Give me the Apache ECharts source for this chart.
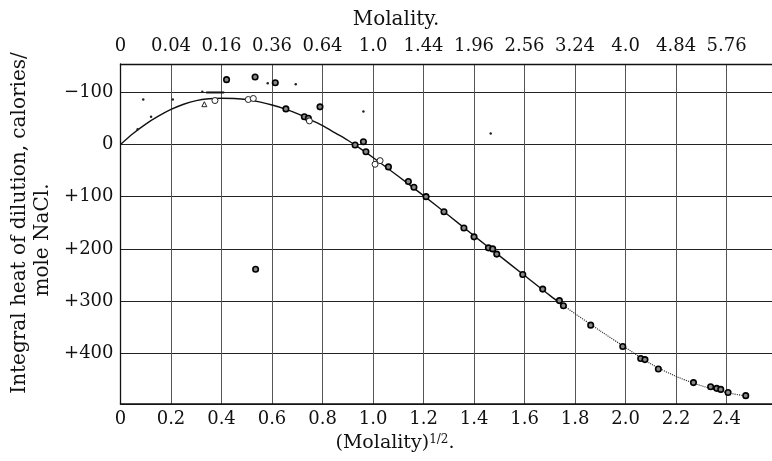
<!DOCTYPE html>
<html>
<head>
<meta charset="utf-8">
<script src="https://cdn.jsdelivr.net/npm/echarts@6/dist/echarts.min.js"></script>
<style>
  html, body { margin: 0; padding: 0; background: #fff; }
  #main { width: 772px; height: 461px; }
</style>
</head>
<body>
<div id="main"></div>
<script>
// smoothed curve drawn through the points, (molality)^1/2 vs heat
var curveX = [0, 0.05, 0.10, 0.15, 0.20, 0.25, 0.30, 0.35, 0.40, 0.45, 0.50, 0.55, 0.60, 0.65, 0.70, 0.75, 0.80, 0.85, 0.90, 0.95, 1.00, 1.10, 1.20, 1.30, 1.40, 1.50, 1.60, 1.70, 1.75,
              1.80, 1.90, 2.00, 2.10, 2.20, 2.30, 2.40, 2.48];
var curveY = [0, -21, -39, -54, -67, -77, -84, -87.5, -88.5, -88, -86, -81.5, -75.5, -68, -59, -48, -36, -22, -8, 8, 25, 61, 98, 136, 175, 213, 251, 289, 307,
              324, 357, 389, 420, 444, 462, 475, 482];
var dottedFrom = 1.75;

// ringed circles
var ringX = [0.42, 0.533, 0.613, 0.655, 0.728, 0.744, 0.79, 0.929, 0.962, 0.972, 1.061, 1.14, 1.162, 1.21, 1.281, 1.36, 1.40, 1.457, 1.474, 1.49,
             1.593, 1.672, 1.738, 1.754, 1.862, 1.989, 2.06, 2.077, 2.13, 2.269, 2.337, 2.361, 2.377, 2.406, 2.476, 0.535];
var ringY = [-124, -129, -118, -68, -53, -50, -72, 1, -5, 14, 43, 71, 82, 100, 129, 160, 177, 198, 200, 210,
             249, 277, 299, 309, 346, 387, 410, 412, 430, 456, 464, 467, 469, 475, 481, 239];

// open circles
var openX = [0.374, 0.506, 0.526, 0.748, 1.008, 1.028];
var openY = [-84, -86, -88, -45, 38, 31];

// small dots
var dotX = [0.068, 0.09, 0.121, 0.207, 0.324, 0.583, 0.694, 0.962, 1.466];
var dotY = [-29, -86, -53, -86, -101, -117, -115, -63, -21];

var triX = [0.332];
var triY = [-77];

var dashX = [0.375];
var dashY = [-99.5];

var xTicks = ['0', '0.2', '0.4', '0.6', '0.8', '1.0', '1.2', '1.4', '1.6', '1.8', '2.0', '2.2', '2.4'];
var molalityTicks = ['0', '0.04', '0.16', '0.36', '0.64', '1.0', '1.44', '1.96', '2.56', '3.24', '4.0', '4.84', '5.76'];

function pairs(xs, ys) {
    return xs.map(function (x, i) { return [x, ys[i]]; });
}

var solidPart = [], dottedPart = [];
curveX.forEach(function (x, i) {
    if (x <= dottedFrom) solidPart.push([x, curveY[i]]);
    if (x >= dottedFrom) dottedPart.push([x, curveY[i]]);
});

var FONT = 'DejaVu Serif';
var labelStyle = { fontFamily: FONT, fontSize: 18, color: '#111' };

function textEl(x, y, text, size, rot) {
    return {
        type: 'text', x: x, y: y, rotation: rot || 0,
        style: {
            text: text, font: size + 'px "DejaVu Serif"', fill: '#111',
            textAlign: 'center', textVerticalAlign: 'middle', align: 'center', verticalAlign: 'middle',
            rich: { sup: { fontFamily: FONT, fontSize: 12, verticalAlign: 'top', fill: '#111', color: '#111' } }
        }
    };
}

var myChart = echarts.init(document.getElementById('main'));

var option = {
    animation: false,
    backgroundColor: '#fff',
    grid: { left: 120.5, right: 0, top: 64, bottom: 57 },
    xAxis: [{
        type: 'value',
        position: 'bottom',
        min: 0,
        max: 2.58,
        interval: 0.2,
        axisLine: { onZero: false, lineStyle: { color: '#111', width: 1.5 } },
        axisTick: { show: false },
        axisLabel: Object.assign({
            margin: 6,
            showMaxLabel: false,
            formatter: function (v) { return xTicks[Math.round(v / 0.2)] || ''; }
        }, labelStyle),
        splitLine: { lineStyle: { color: '#555', width: 1 } }
    }, {
        type: 'value',
        position: 'top',
        min: 0,
        max: 2.58,
        interval: 0.2,
        axisLine: { onZero: false, lineStyle: { color: '#111', width: 1.3 } },
        axisTick: { show: false },
        axisLabel: Object.assign({
            margin: 9,
            showMaxLabel: false,
            formatter: function (v) { return molalityTicks[Math.round(v / 0.2)] || ''; }
        }, labelStyle),
        splitLine: { show: false }
    }],
    yAxis: {
        type: 'value',
        inverse: true,
        min: -154,
        max: 497,
        splitNumber: 6,
        axisLine: { show: true, onZero: false, lineStyle: { color: '#111', width: 1.3 } },
        axisTick: { show: false },
        axisLabel: Object.assign({
            margin: 7,
            showMinLabel: false,
            showMaxLabel: false,
            formatter: function (v) {
                if (v < 0) return '\u2212' + (-v);
                if (v > 0) return '+' + v;
                return '0';
            }
        }, labelStyle),
        splitLine: { lineStyle: { color: '#222', width: 1.2 } }
    },
    graphic: [
        textEl(396, 20, 'Molality.', 20),
        textEl(395, 443, '(Molality){sup|1/2}.', 19),
        textEl(20, 223, 'Integral heat of dilution, calories/', 20, Math.PI / 2),
        textEl(43, 240, 'mole NaCl.', 20, Math.PI / 2)
    ],
    series: [
        {
            type: 'line', data: solidPart, smooth: 0.3, symbol: 'none',
            lineStyle: { color: '#111', width: 1.4 }, z: 2
        },
        {
            type: 'line', data: dottedPart, smooth: 0.3, symbol: 'none',
            lineStyle: { color: '#222', width: 1.1, type: 'dotted' }, z: 2
        },
        {
            type: 'scatter', data: pairs(ringX, ringY), symbol: 'circle', symbolSize: 5.5,
            itemStyle: { color: '#888', borderColor: '#000', borderWidth: 1.6, opacity: 1 }, z: 3
        },
        {
            type: 'scatter', data: pairs(openX, openY), symbol: 'circle', symbolSize: 6,
            itemStyle: { color: '#fff', borderColor: '#222', borderWidth: 1, opacity: 1 }, z: 3
        },
        {
            type: 'scatter', data: pairs(dotX, dotY), symbol: 'circle', symbolSize: 2.5,
            itemStyle: { color: '#222', opacity: 1 }, z: 3
        },
        {
            type: 'scatter', data: pairs(triX, triY), symbol: 'triangle', symbolSize: 5,
            itemStyle: { color: '#fff', borderColor: '#222', borderWidth: 1, opacity: 1 }, z: 3
        },
        {
            type: 'scatter', data: pairs(dashX, dashY), symbol: 'rect', symbolSize: [18, 2],
            itemStyle: { color: '#111', opacity: 1 }, z: 3
        }
    ]
};

myChart.setOption(option);
</script>
</body>
</html>
